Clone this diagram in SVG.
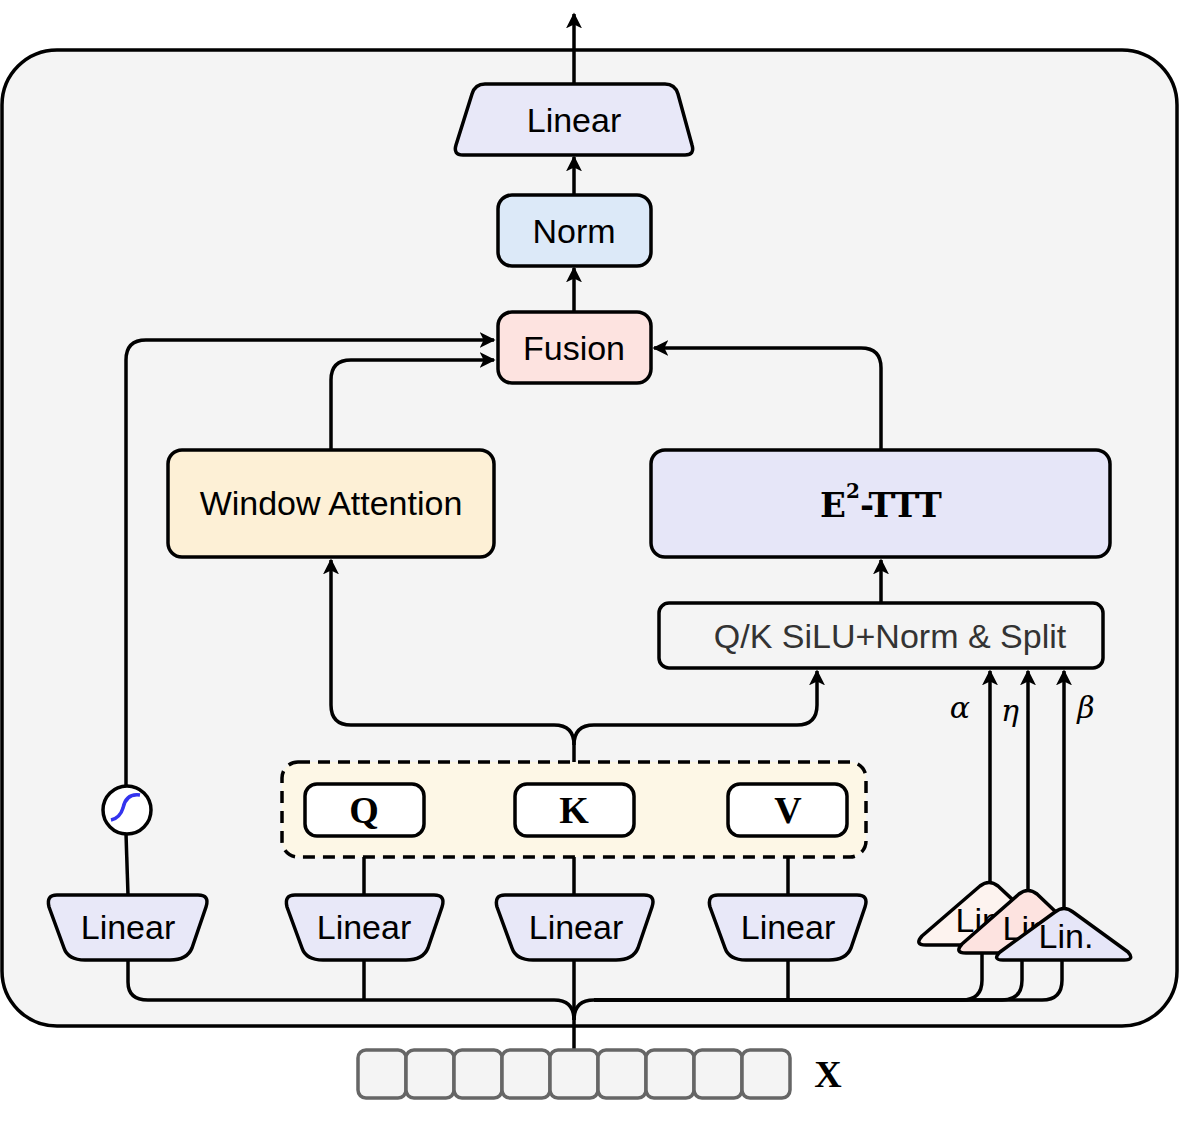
<svg xmlns="http://www.w3.org/2000/svg" width="1182" height="1134" viewBox="0 0 1182 1134">
<defs>
<marker id="ar" viewBox="0 0 10 10" refX="9" refY="5" markerWidth="16" markerHeight="16" markerUnits="userSpaceOnUse" orient="auto">
<path d="M0,0 L10,5 L0,10 L2.5,5 z" fill="#000"/>
</marker>
<style>
.n{stroke:#000;stroke-width:3.5;stroke-linejoin:round}
.c{fill:none;stroke:#000;stroke-width:3.5}
.t{font-family:"Liberation Sans",Arial,sans-serif;font-size:34px;text-anchor:middle;dominant-baseline:central}
.s{font-family:"Liberation Serif","Times New Roman",serif;font-weight:bold;font-size:38px;text-anchor:middle;dominant-baseline:central}
.g{font-family:"DejaVu Serif",serif;font-style:italic;font-size:30px;text-anchor:middle;dominant-baseline:central}
.tok{fill:#f4f4f4;stroke:#666;stroke-width:3.5}
</style>
</defs>
<rect x="2" y="50" width="1175" height="976" rx="55" fill="#f4f4f4" stroke="#000" stroke-width="3.5"/>
<g id="connectors">
<path class="c" d="M574,84 V14" marker-end="url(#ar)"/>
<path class="c" d="M574,195 V157" marker-end="url(#ar)"/>
<path class="c" d="M574,312 V268" marker-end="url(#ar)"/>
<path class="c" d="M126,786 V360 Q126,340 146,340 H494" marker-end="url(#ar)"/>
<path class="c" d="M128,895 L126,834"/>
<path class="c" d="M331,450 V380 Q331,360 351,360 H494" marker-end="url(#ar)"/>
<path class="c" d="M881,450 V368 Q881,348 861,348 H654" marker-end="url(#ar)"/>
<path class="c" d="M881,603 V560" marker-end="url(#ar)"/>
<path class="c" d="M574,762 V745 Q574,725 554,725 H351 Q331,725 331,705 V560" marker-end="url(#ar)"/>
<path class="c" d="M574,745 Q574,725 594,725 H797 Q817,725 817,705 V671" marker-end="url(#ar)"/>
<path class="c" d="M364,836 V895 M574,836 V895 M788,836 V895"/>
<path class="c" d="M574,1050 V960"/>
<path class="c" d="M128,960 V982 Q128,1000 148,1000 H554 Q574,1000 574,1020"/>
<path class="c" d="M364,960 V1000 M788,960 V1000"/>
<path class="c" d="M574,1020 Q574,1000 594,1000 H962 Q982,1000 982,980 V945"/>
<path class="c" d="M594,1000 H1002 Q1022,1000 1022,980 V953"/>
<path class="c" d="M594,1000 H1042 Q1062,1000 1062,980 V960"/>
<path class="c" d="M990,882 V671" marker-end="url(#ar)"/>
<path class="c" d="M1028,890 V671" marker-end="url(#ar)"/>
<path class="c" d="M1064,908 V671" marker-end="url(#ar)"/>
</g>
<g id="linear-top"><path class="n" fill="#e8e8f8" d="M485,84 H665 Q675,84 678,94 L692,145 Q695,155 685,155 H463 Q453,155 456,145 L472,94 Q475,84 485,84 z"/><text class="t" x="574" y="120">Linear</text></g>
<g id="norm"><rect class="n" x="498" y="195" width="153" height="71" rx="14" fill="#dce9f8"/><text class="t" x="574" y="231">Norm</text></g>
<g id="fusion"><rect class="n" x="498" y="312" width="153" height="71" rx="14" fill="#fde3e0"/><text class="t" x="574" y="348">Fusion</text></g>
<g id="window"><rect class="n" x="168" y="450" width="326" height="107" rx="14" fill="#fdf0d6"/><text class="t" x="331" y="503">Window Attention</text></g>
<g id="ttt"><rect class="n" x="651" y="450" width="459" height="107" rx="14" fill="#e6e6f8"/><text class="s" x="881" y="505" style="font-family:'DejaVu Serif',serif;font-size:34px">E<tspan font-size="20" dy="-14">2</tspan><tspan dy="14">-TTT</tspan></text></g>
<g id="qk"><rect class="n" x="659" y="603" width="444" height="65" rx="10" fill="#f4f4f4"/><text class="t" x="890" y="636" fill="#333">Q/K SiLU+Norm &amp; Split</text></g>
<g id="qkv"><rect x="282" y="762" width="584" height="95" rx="16" fill="#fdf7e6" stroke="#000" stroke-width="3.5" stroke-dasharray="12,8"/></g>
<g id="q"><rect class="n" x="305" y="784" width="119" height="52" rx="12" fill="#fff"/><text class="s" x="364" y="810">Q</text></g>
<g id="k"><rect class="n" x="515" y="784" width="119" height="52" rx="12" fill="#fff"/><text class="s" x="574" y="810">K</text></g>
<g id="v"><rect class="n" x="728" y="784" width="119" height="52" rx="12" fill="#fff"/><text class="s" x="788" y="810">V</text></g>
<g id="sigmoid"><circle class="n" cx="127" cy="810" r="24" fill="#fff"/><path d="M111,820 Q120,818 123,808 Q126,793 140,795" fill="none" stroke="#3333ee" stroke-width="3.5"/></g>
<g id="lin1"><path class="n" fill="#e8e8f8" d="M57,895 H198 Q210,895 206,907 L192,948 Q187,960 170,960 H85 Q68,960 64,948 L49,907 Q46,895 57,895 z"/><text class="t" x="128" y="927">Linear</text></g>
<g id="lin2"><path class="n" fill="#e8e8f8" d="M295,895 H434 Q446,895 442,907 L428,948 Q423,960 406,960 H323 Q306,960 302,948 L287,907 Q284,895 295,895 z"/><text class="t" x="364" y="927">Linear</text></g>
<g id="lin3"><path class="n" fill="#e8e8f8" d="M505,895 H644 Q656,895 652,907 L638,948 Q633,960 616,960 H533 Q516,960 512,948 L497,907 Q494,895 505,895 z"/><text class="t" x="576" y="927">Linear</text></g>
<g id="lin4"><path class="n" fill="#e8e8f8" d="M718,895 H857 Q869,895 865,907 L851,948 Q846,960 829,960 H746 Q729,960 725,948 L710,907 Q707,895 718,895 z"/><text class="t" x="788" y="927">Linear</text></g>
<g id="tri1"><path class="n" fill="#fdf3ef" d="M980,886 Q989,879 998,886 L1030,916 V945 H926 Q914,945 922,936 z"/><text class="t" x="983" y="920">Lin.</text></g>
<g id="tri2"><path class="n" fill="#fde3e0" d="M1019,894 Q1028,887 1037,894 L1080,935 V953 H966 Q954,953 962,944 z"/><text class="t" x="1030" y="928">Lin.</text></g>
<g id="tri3"><path class="n" fill="#e6e6f8" d="M1055,912 Q1064,905 1073,912 L1128,952 Q1135,960 1124,960 H1003 Q992,960 1000,952 z"/><text class="t" x="1066" y="936">Lin.</text></g>
<text class="g" x="960" y="707">α</text>
<text class="g" x="1010" y="710">η</text>
<text class="g" x="1086" y="707">β</text>
<g id="tokens">
<rect class="tok" x="358" y="1050" width="48" height="48" rx="8"/>
<rect class="tok" x="406" y="1050" width="48" height="48" rx="8"/>
<rect class="tok" x="454" y="1050" width="48" height="48" rx="8"/>
<rect class="tok" x="502" y="1050" width="48" height="48" rx="8"/>
<rect class="tok" x="550" y="1050" width="48" height="48" rx="8"/>
<rect class="tok" x="598" y="1050" width="48" height="48" rx="8"/>
<rect class="tok" x="646" y="1050" width="48" height="48" rx="8"/>
<rect class="tok" x="694" y="1050" width="48" height="48" rx="8"/>
<rect class="tok" x="742" y="1050" width="48" height="48" rx="8"/>
<text class="s" x="828" y="1074">X</text>
</g>
</svg>
